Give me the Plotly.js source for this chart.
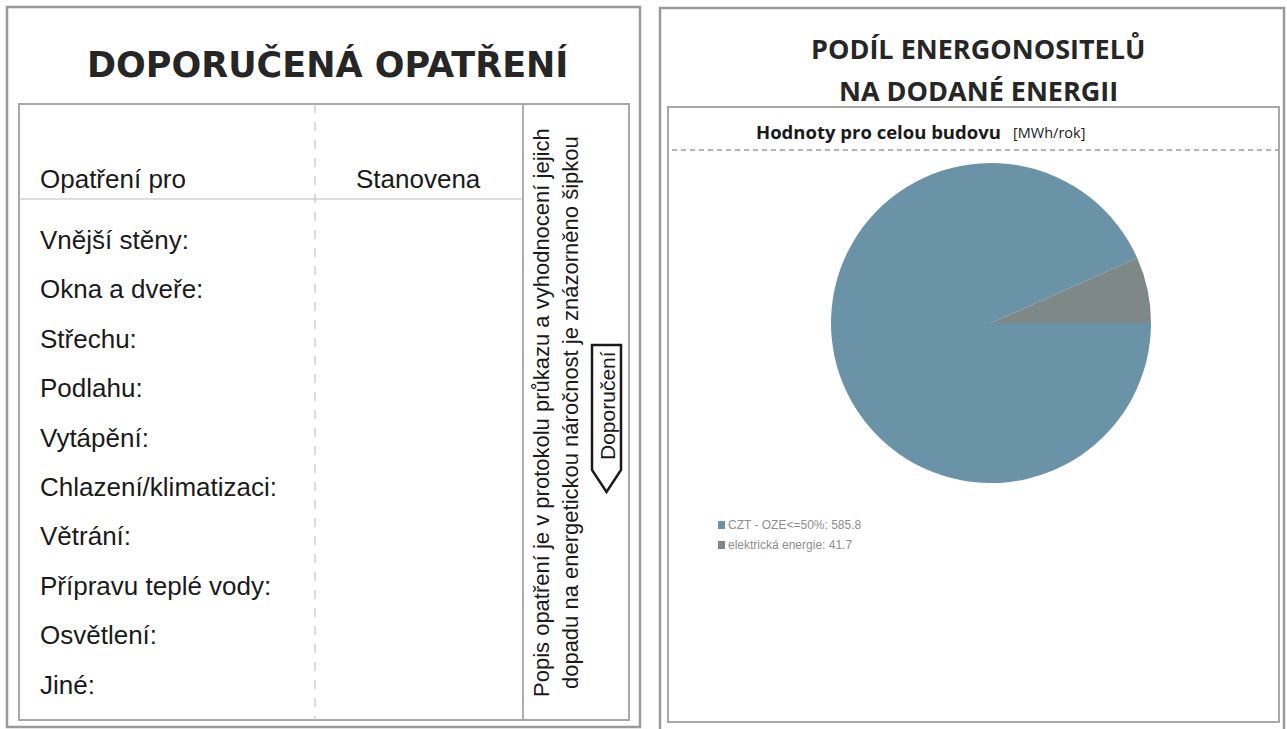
<!DOCTYPE html>
<html><head><meta charset="utf-8">
<script src="https://cdn.plot.ly/plotly-3.0.1.min.js"></script>
<style>html,body{margin:0;padding:0;background:#fff}#chart{width:1287px;height:729px}</style>
</head><body><div id="chart"></div>
<script>
// ---- data ----
const energyLabels = ['CZT - OZE<=50%', 'elektrická energie'];
const energyValues = [585.8, 41.7];
const energyColors = ['#6a93a8', '#7e8987'];
const measureRows = ['Vnější stěny:', 'Okna a dveře:', 'Střechu:', 'Podlahu:', 'Vytápění:',
  'Chlazení/klimatizaci:', 'Větrání:', 'Přípravu teplé vody:', 'Osvětlení:', 'Jiné:'];
const tableHeaders = ['Opatření pro', 'Stanovena'];
const leftTitle = 'DOPORUČENÁ OPATŘENÍ';
const rightTitle = ['PODÍL ENERGONOSITELŮ', 'NA DODANÉ ENERGII'];
const chartSubtitle = 'Hodnoty pro celou budovu';
const unitText = '[MWh/rok]';
const sideNote = ['Popis opatření je v protokolu průkazu a vyhodnocení jejich',
  'dopadu na energetickou náročnost je znázorněno šipkou'];
const arrowText = 'Doporučení';

// ---- layout helpers ----
const W = 1287, H = 729;
const px = x => x / W, py = y => 1 - y / H;
const P = (x, y) => px(x) + ',' + py(y);
const sans = 'Liberation Sans, Arial, sans-serif';
const boldSans = 'DejaVu Sans, Verdana, sans-serif';
const calib = 'Open Sans, Noto Sans, sans-serif';

function rect(x0, y0, x1, y1, color, width) {
  return {type: 'rect', xref: 'paper', yref: 'paper', x0: px(x0), x1: px(x1), y0: py(y1), y1: py(y0),
    line: {color: color, width: width}, fillcolor: 'rgba(0,0,0,0)'};
}
function line(x0, y0, x1, y1, color, width, dash) {
  return {type: 'line', xref: 'paper', yref: 'paper', x0: px(x0), x1: px(x1), y0: py(y0), y1: py(y1),
    line: {color: color, width: width, dash: dash || 'solid'}};
}
function ann(text, x, y, size, opts) {
  return Object.assign({text: text, x: px(x), y: py(y), xref: 'paper', yref: 'paper', showarrow: false,
    xanchor: 'center', yanchor: 'middle', font: {family: sans, size: size, color: '#1a1a1a'}}, opts || {});
}

const shapes = [
  rect(7, 7, 640, 727, '#9a9a9a', 2.5),
  rect(19, 104, 629, 720, '#a8a8a8', 2),
  line(19, 199, 523, 199, '#bdbdbd', 1.2),
  line(315, 104, 315, 720, '#c4c4c4', 1.2, 'dash'),
  line(523, 104, 523, 720, '#a8a8a8', 1.8),
  rect(660, 8, 1284, 731, '#9a9a9a', 2.5),
  rect(668, 107, 1279, 722, '#a8a8a8', 2),
  line(672, 150, 1278, 150, '#b4b4b4', 2, '5px,4px'),
  {type: 'path', xref: 'paper', yref: 'paper',
    path: 'M' + P(592, 345) + 'L' + P(621, 345) + 'L' + P(621, 470) + 'L' + P(606.5, 492) + 'L' + P(592, 470) + 'Z',
    line: {color: '#1a1a1a', width: 2.5}, fillcolor: '#fff'}
];

const annotations = [
  ann('<b>' + leftTitle + '</b>', 327, 65, 35, {font: {family: boldSans, size: 35, color: '#262626'}}),
  ann(tableHeaders[0], 38, 179, 26, {xanchor: 'left'}),
  ann(tableHeaders[1], 418, 179, 26),
  ann(sideNote.join('<br>'), 556, 413, 22, {textangle: -90}),
  ann(arrowText, 607, 406, 21, {textangle: -90}),
  ann('<b>' + rightTitle[0] + '</b>', 978, 48, 27, {font: {family: calib, size: 27, color: '#262626', weight: 800}}),
  ann('<b>' + rightTitle[1] + '</b>', 978, 90, 27, {font: {family: calib, size: 27, color: '#262626', weight: 800}}),
  ann('<b>' + chartSubtitle + '</b>', 1003, 131, 18.5, {xanchor: 'right', font: {family: calib, size: 18.5, color: '#1a1a1a', weight: 800}}),
  ann(unitText, 1011, 132, 14.5, {xanchor: 'left', font: {family: calib, size: 14.5, color: '#1a1a1a'}})
];
measureRows.forEach((r, i) => {
  annotations.push(ann(r, 38, 240 + i * 49.4, 26, {xanchor: 'left'}));
});
// legend drawn next to the pie
energyLabels.forEach((lab, i) => {
  const yy = 525 + i * 20;
  shapes.push({type: 'rect', xref: 'paper', yref: 'paper', x0: px(718), x1: px(725), y0: py(yy + 4), y1: py(yy - 4),
    line: {width: 0}, fillcolor: energyColors[i]});
  annotations.push(ann(lab + ': ' + energyValues[i], 726, yy, 12,
    {xanchor: 'left', font: {family: sans, size: 12, color: '#8e8e8e'}}));
});

const data = [{
  type: 'pie', labels: energyLabels, values: energyValues,
  marker: {colors: energyColors, line: {width: 0}},
  sort: false, direction: 'clockwise', rotation: 90,
  textinfo: 'none', hoverinfo: 'label+value', showlegend: false,
  domain: {x: [px(831), px(1151)], y: [py(483), py(163)]}
}];

const layout = {
  width: W, height: H, margin: {l: 0, r: 0, t: 0, b: 0},
  paper_bgcolor: '#ffffff', plot_bgcolor: '#ffffff', showlegend: false,
  shapes: shapes, annotations: annotations
};
Plotly.newPlot('chart', data, layout, {displayModeBar: false, staticPlot: true});
</script></body></html>
